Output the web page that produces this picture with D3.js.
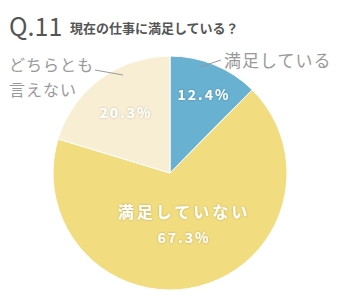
<html>
<head>
<meta charset="utf-8">
<style>
  body { margin: 0; background: #fff; }
  text { font-family: "Noto Sans CJK JP", "Noto Sans", sans-serif; }
</style>
</head>
<body>
  <svg id="svg" width=340 height=300></svg>

  <script src="https://cdn.jsdelivr.net/npm/d3@7"></script>
  <script type="text/javascript">
  const categories = ["満足している", "満足していない", "どちらとも言えない"];
  const values = [12.4, 67.3, 20.3];
  const colors = ["#68b1d1", "#f1dc80", "#f8eed4"];
  const pctLabels = ["12.4%", "67.3%", "20.3%"];

  const svg = d3.select("#svg");
  const cx = 170, cy = 173, r = 117;

  // title
  svg.append("text").attr("x", 9).attr("y", 36)
    .attr("font-family", "Lato, 'Open Sans', sans-serif")
    .attr("font-size", 25).attr("fill", "#555").text("Q.11");
  svg.append("text").attr("x", 70).attr("y", 33)
    .attr("font-size", 13).attr("font-weight", "bold").attr("fill", "#555")
    .text("現在の仕事に満足している？");

  const pie = d3.pie().sort(null).value(d => d);
  const arc = d3.arc().innerRadius(0).outerRadius(r);
  const arcs = pie(values);

  const g = svg.append("g").attr("transform", "translate(" + cx + "," + cy + ")");
  g.selectAll("path").data(arcs).enter().append("path")
    .attr("d", arc)
    .attr("fill", (d, i) => colors[i])
    .attr("stroke", "#fff")
    .attr("stroke-width", 1);

  // outside labels with leader lines
  const gray = "#999";
  svg.append("line").attr("x1", 200).attr("y1", 67).attr("x2", 221).attr("y2", 60)
    .attr("stroke", gray).attr("stroke-width", 1);
  svg.append("text").attr("x", 224).attr("y", 67)
    .attr("font-size", 17).attr("letter-spacing", 1).attr("fill", gray)
    .text(categories[0]);

  svg.append("line").attr("x1", 95).attr("y1", 70).attr("x2", 123).attr("y2", 75)
    .attr("stroke", gray).attr("stroke-width", 1);
  svg.append("text").attr("x", 9).attr("y", 71)
    .attr("font-size", 16).attr("letter-spacing", 1).attr("fill", gray)
    .text("どちらとも");
  svg.append("text").attr("x", 9).attr("y", 96)
    .attr("font-size", 16).attr("letter-spacing", 1).attr("fill", gray)
    .text("言えない");

  // inner labels
  const shadow = svg.append("defs").append("filter").attr("id", "sh")
    .attr("x", "-20%").attr("y", "-20%").attr("width", "140%").attr("height", "140%");
  shadow.append("feDropShadow").attr("dx", 0).attr("dy", 0).attr("stdDeviation", 1.2)
    .attr("flood-color", "#000").attr("flood-opacity", 0.25);

  const inner = [
    { text: pctLabels[0], x: 204, y: 100, size: 14 },
    { text: pctLabels[2], x: 126, y: 118, size: 14 },
    { text: categories[1], x: 184, y: 218, size: 16 },
    { text: pctLabels[1], x: 184, y: 243, size: 14 }
  ];
  svg.selectAll("text.in").data(inner).enter().append("text")
    .attr("class", "in")
    .attr("x", d => d.x).attr("y", d => d.y)
    .attr("text-anchor", "middle")
    .attr("font-size", d => d.size)
    .attr("font-weight", "bold")
    .attr("letter-spacing", d => d.size === 14 ? 2 : 3)
    .attr("fill", "#fff")
    .attr("filter", "url(#sh)")
    .text(d => d.text);
  </script>
</body>
</html>
